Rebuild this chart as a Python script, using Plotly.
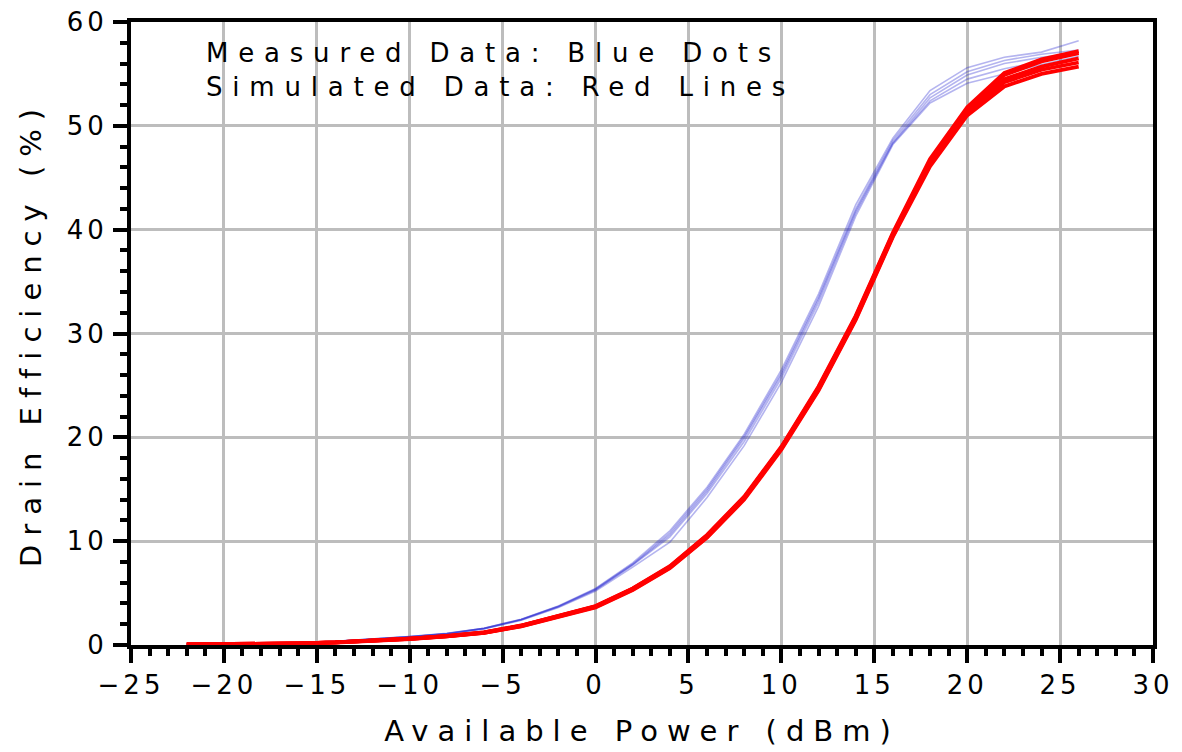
import plotly.graph_objects as go

# Available power sweep (dBm)
pin = [-22, -20, -18, -16, -14, -12, -10, -8, -6, -4, -2, 0, 2, 4, 6, 8,
       10, 12, 14, 16, 18, 20, 22, 24, 26]

# Measured drain efficiency (%), one list per device
meas_1 = [0.06, 0.09, 0.14, 0.22, 0.36, 0.56, 0.82, 1.12, 1.62, 2.48, 3.75, 5.45,
          7.9, 11.0, 15.2, 20.3, 26.5, 33.8, 42.4, 48.8, 53.4, 55.6, 56.6, 57.1, 58.2]
meas_2 = [0.06, 0.09, 0.14, 0.22, 0.35, 0.55, 0.81, 1.11, 1.61, 2.46, 3.72, 5.4,
          7.8, 10.8, 15.0, 20.1, 26.2, 33.5, 42.0, 48.6, 53.0, 55.2, 56.3, 56.9, 57.3]
meas_3 = [0.06, 0.09, 0.14, 0.22, 0.35, 0.55, 0.8, 1.1, 1.6, 2.45, 3.7, 5.35,
          7.75, 10.6, 14.8, 19.9, 26.0, 33.3, 41.8, 48.4, 52.7, 54.9, 56.0, 56.6, 57.0]
meas_4 = [0.06, 0.09, 0.14, 0.21, 0.34, 0.54, 0.79, 1.08, 1.58, 2.42, 3.66, 5.3,
          7.7, 10.4, 14.6, 19.6, 25.7, 33.0, 41.6, 48.3, 52.4, 54.5, 55.5, 56.2, 56.9]
meas_5 = [0.05, 0.08, 0.13, 0.21, 0.33, 0.53, 0.78, 1.06, 1.55, 2.38, 3.6, 5.2,
          7.5, 9.9, 14.2, 19.2, 25.3, 32.6, 41.3, 48.2, 52.2, 54.1, 55.0, 55.9, 56.7]

# Simulated drain efficiency (%), one list per model corner
sim_1 = [0.05, 0.07, 0.1, 0.16, 0.26, 0.41, 0.62, 0.87, 1.22, 1.88, 2.85, 3.75,
         5.45, 7.6, 10.6, 14.3, 19.1, 24.9, 31.7, 39.7, 46.8, 51.8, 55.1, 56.4, 57.2]
sim_2 = [0.05, 0.07, 0.1, 0.16, 0.25, 0.4, 0.61, 0.86, 1.21, 1.86, 2.83, 3.72,
         5.42, 7.55, 10.55, 14.2, 19.0, 24.8, 31.6, 39.6, 46.6, 51.6, 54.9, 56.2, 57.0]
sim_3 = [0.05, 0.07, 0.1, 0.16, 0.25, 0.4, 0.6, 0.85, 1.2, 1.85, 2.8, 3.7,
         5.4, 7.5, 10.5, 14.2, 19.0, 24.7, 31.5, 39.5, 46.5, 51.4, 54.5, 55.7, 56.5]
sim_4 = [0.05, 0.07, 0.1, 0.15, 0.25, 0.39, 0.59, 0.84, 1.18, 1.82, 2.77, 3.66,
         5.35, 7.45, 10.4, 14.1, 18.9, 24.6, 31.4, 39.4, 46.3, 51.2, 54.2, 55.4, 56.1]
sim_5 = [0.05, 0.07, 0.1, 0.15, 0.24, 0.38, 0.58, 0.83, 1.16, 1.8, 2.74, 3.62,
         5.3, 7.4, 10.35, 14.0, 18.8, 24.5, 31.3, 39.3, 46.1, 51.0, 53.8, 55.0, 55.7]

measured = [meas_1, meas_2, meas_3, meas_4, meas_5]
simulated = [sim_1, sim_2, sim_3, sim_4, sim_5]

x_ticks = [-25, -20, -15, -10, -5, 0, 5, 10, 15, 20, 25, 30]
y_ticks = [0, 10, 20, 30, 40, 50, 60]

FONT = "DejaVu Sans"


def spaced(s, gap):
    return f"<span style='letter-spacing:{gap}px'>{s}</span>"


def num_label(v):
    s = str(v).replace("-", "\u2212")
    return spaced(s, 4)


fig = go.Figure()

for ys in measured:
    fig.add_trace(go.Scatter(
        x=pin, y=ys, mode="lines",
        line=dict(color="rgba(40,40,210,0.35)", width=1.6),
        hoverinfo="skip"))

for ys in simulated:
    fig.add_trace(go.Scatter(
        x=pin, y=ys, mode="lines",
        line=dict(color="#ff0000", width=3.8),
        hoverinfo="skip"))

fig.add_annotation(
    xref="paper", yref="paper", x=0.071, y=0.978,
    xanchor="left", yanchor="top", align="left", showarrow=False,
    text=spaced("Measured Data: Blue Dots", 9.8) + "<br>" +
         spaced("Simulated Data: Red Lines", 9.8),
    font=dict(family=FONT, size=26, color="black"))

axis_common = dict(
    showline=True, linecolor="black", linewidth=4, mirror=True,
    showgrid=True, gridcolor="#bdbdbd", gridwidth=3,
    zeroline=False, automargin=False,
    ticks="outside", ticklen=14, tickwidth=4, tickcolor="black",
    tickfont=dict(family=FONT, size=26, color="black"),
)

fig.update_xaxes(
    range=[-25, 30], tickmode="array", tickvals=x_ticks,
    ticktext=[num_label(v) for v in x_ticks],
    minor=dict(dtick=1, ticks="outside", ticklen=7, tickwidth=4,
               tickcolor="black", showgrid=False),
    title=dict(text=spaced("Available Power (dBm)", 9),
               font=dict(family=FONT, size=29, color="black"), standoff=22),
    **axis_common)

fig.update_yaxes(
    range=[0, 60], tickmode="array", tickvals=y_ticks,
    ticktext=[num_label(v) for v in y_ticks],
    minor=dict(dtick=2, ticks="outside", ticklen=7, tickwidth=4,
               tickcolor="black", showgrid=False),
    title=dict(text=spaced("Drain Efficiency (%)", 9),
               font=dict(family=FONT, size=29, color="black"), standoff=18),
    **axis_common)

fig.update_layout(
    width=1182, height=752,
    margin=dict(l=131, r=29, t=22, b=107),
    paper_bgcolor="white", plot_bgcolor="white",
    showlegend=False,
)

fig.write_html("out.html")
